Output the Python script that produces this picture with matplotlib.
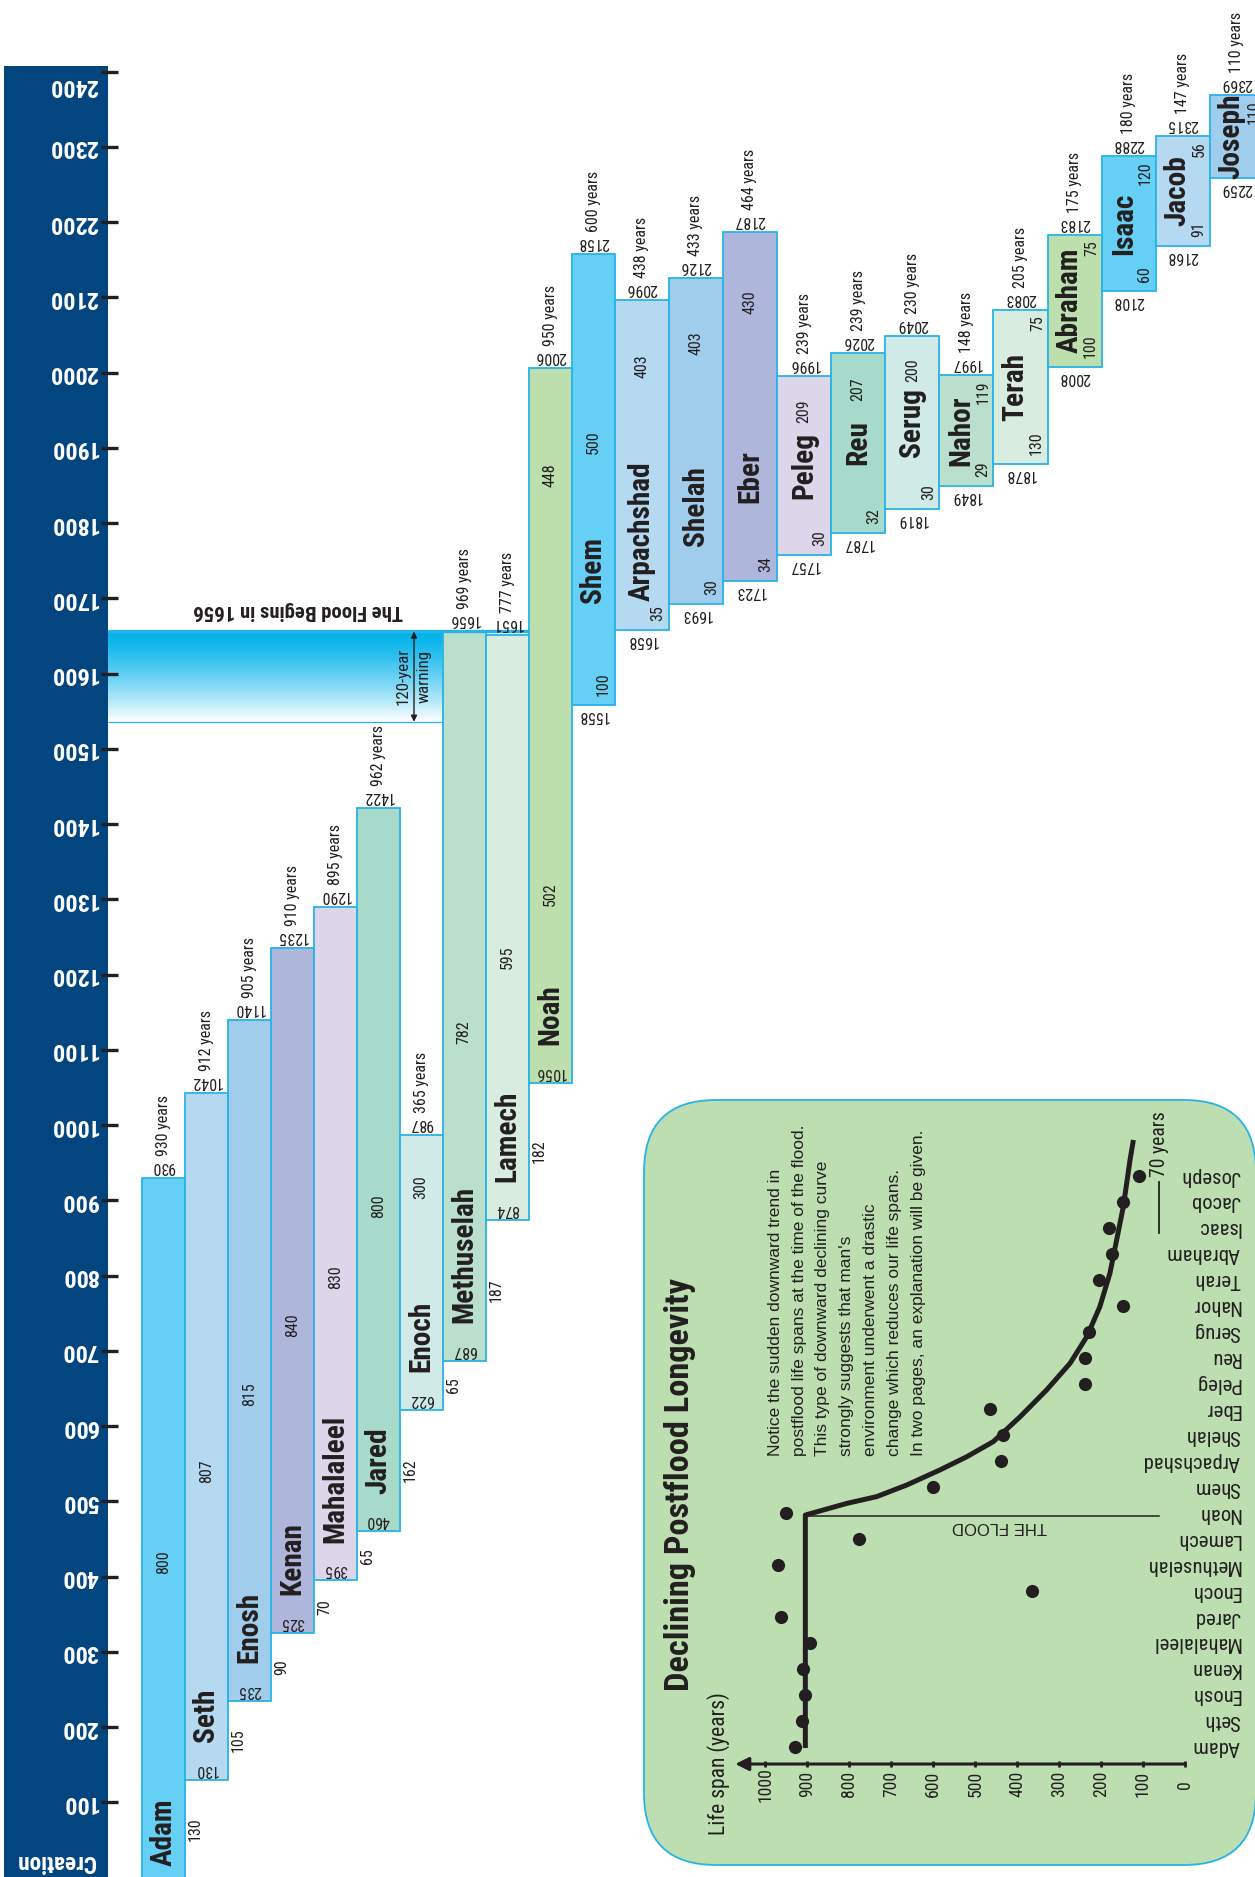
import numpy as np
import matplotlib
matplotlib.use("Agg")
import matplotlib.pyplot as plt
from matplotlib import font_manager
from matplotlib.font_manager import FontProperties
from matplotlib.patches import Rectangle, FancyBboxPatch
from matplotlib.transforms import IdentityTransform

# ---- data ----
names = ["Adam", "Seth", "Enosh", "Kenan", "Mahalaleel", "Jared", "Enoch",
         "Methuselah", "Lamech", "Noah", "Shem", "Arpachshad", "Shelah", "Eber",
         "Peleg", "Reu", "Serug", "Nahor", "Terah", "Abraham", "Isaac", "Jacob",
         "Joseph"]
birth_years = [0, 130, 235, 325, 395, 460, 622, 687, 874, 1056, 1558, 1658, 1693,
               1723, 1757, 1787, 1819, 1849, 1878, 2008, 2108, 2168, 2259]
life_spans = [930, 912, 905, 910, 895, 962, 365, 969, 777, 950, 600, 438, 433,
              464, 239, 239, 230, 148, 205, 175, 180, 147, 110]
age_at_son = [130, 105, 90, 70, 65, 162, 65, 187, 182, 502, 100, 35, 30, 34, 30,
              32, 30, 29, 130, 100, 60, 91, None]
flood_year = 1656
warning_years = 120
axis_years = list(range(100, 2401, 100))

# inset: hand drawn declining curve (row index, life span)
curve_rows = [-0.05, 8.93, 9.38, 9.64, 10.09, 10.67, 11.18, 11.76, 12.72, 13.75,
              14.78, 15.81, 16.96, 18.25, 19.53, 20.82, 22.62, 23.39]
curve_life = [905, 905, 806, 735, 663, 584, 520, 457, 393, 330, 274, 234, 203,
              179, 163, 147, 131, 123]
inset_ticks = list(range(0, 1001, 100))
modern_span = 70
modern_line_life = 61
note_lines = ["Notice the sudden downward trend in",
              "postflood life spans at the time of the flood.",
              "This type of downward declining curve",
              "strongly suggests that man's",
              "environment underwent a drastic",
              "change which reduces our life spans.",
              "In two pages, an explanation will be given."]

# ---- styles ----
bar_palette = ['#66cff6', '#b5d9f1', '#a1cdec', '#aeb6dc', '#ddd5ea',
               '#a8dacb', '#d0eae8', '#badfcc', '#d8ede0', '#bddfae']
DARK = '#231f20'
CYAN = '#27b3e6'
NAVY = '#03467f'
INSET_BG = '#bcdeb0'


def pick_fonts():
    ttf = font_manager.fontManager.ttflist
    have = {f.name for f in ttf}
    reg = next((n for n in ['Liberation Sans', 'Roboto', 'DejaVu Sans'] if n in have),
               'DejaVu Sans')
    for n in ['Liberation Sans Narrow', 'Roboto Condensed', 'Open Sans Condensed',
              'Noto Sans Condensed', 'DejaVu Sans Condensed']:
        if n in have:
            return n, 'normal', reg
    for f in ttf:
        if ('Narrow' in f.name or 'Condensed' in f.name) and 'Mono' not in f.name:
            return f.name, 'normal', reg
    for f in ttf:
        if str(f.stretch) in ('condensed', 'semi-condensed') and \
                'Mono' not in f.name and 'Serif' not in f.name:
            return f.name, f.stretch, reg
    return reg, 'normal', reg


NARROW, STRETCH, REG = pick_fonts()

W, H = 1255, 1877
fig = plt.figure(figsize=(W / 100, H / 100), dpi=100)
renderer = fig.canvas.get_renderer()


def measure(s, weight, family):
    fp = FontProperties(family=family or NARROW, weight=weight, size=10,
                        stretch=STRETCH if family is None else 'normal')
    w, h, d = renderer.get_text_width_height_descent(s, fp, ismath=False)
    return w, h - d


def fit(s, target_w, target_h=None, weight='normal', family=None, cap="H"):
    # font size (pt) matching the width (and cap height) seen in the reference
    w, _ = measure(s, weight, family)
    size_w = 10 * target_w / w
    if target_h is None:
        return size_w
    _, h = measure(cap, weight, family)
    size_h = 10 * target_h / h
    return (size_w * size_h) ** 0.5


NUM = fit("1422", 31, 11.7, cap="1422") * 1.05
NAME = fit("Arpachshad", 133, 21.7, 'bold') * 1.06
TICK = fit("2400", 52, 18, 'bold', cap="2400")
CRE = fit("Creation", 88, 16.5, 'bold', cap="C")
FLOOD_T = fit("The Flood Begins in 1656", 219, 15.7, 'bold', cap="T")
WARN = fit("120-year", 57, 13.3, cap="1")
TITLE = fit("Declining Postflood Longevity", 425, 25.5, 'bold', cap="D") * 1.02
INAME = fit("Methuselah", 95)
ITICK = fit("1000", 35, 13.7, cap="1000")
ILAB = fit("Life span (years)", 142)
SEVENTY = fit("70 years", 65)
FLOOD_L = fit("THE FLOOD", 95, family=REG)
PARA = fit("In two pages, an explanation will be given.", 325, family=REG)

NF = dict(family=NARROW, fontstretch=STRETCH, color=DARK)

ax = fig.add_axes([0, 0, 1, 1])
ax.set_zorder(0)
PX = 1 / 0.7525          # years per pixel
YTOP = 1877.6 * PX

# column geometry: pre-flood columns are narrower
lefts, widths = [], []
x = 141.7
for i in range(len(names)):
    w = 43.0 if i <= names.index("Shem") else 54.1
    lefts.append(x)
    widths.append(w)
    x += w

# time axis band
ax.add_patch(Rectangle((4, 0), 104, 2407, facecolor=NAVY, edgecolor='none', zorder=1))
ax.hlines(axis_years, 101, 118, color=DARK, lw=2.4, zorder=4)
for t in axis_years:
    y = t if t < 2400 else t - 14 * PX
    ax.text(98, y, str(t), rotation=180, rotation_mode='anchor', ha='left',
            va='center', fontweight='bold', fontsize=TICK, zorder=5,
            **{**NF, 'color': 'white'})
ax.text(56, 21, "Creation", rotation=180, rotation_mode='anchor', ha='center',
        va='center', fontweight='bold', fontsize=CRE, zorder=5,
        **{**NF, 'color': 'white'})

# flood band
i_meth = names.index("Methuselah")
i_noah = names.index("Noah")
grad = np.linspace(0, 1, 200) ** 1.3
top_rgb = np.array([0x00, 0xb2, 0xeb]) / 255
img = np.ones((200, 1, 3))
for k in range(200):
    img[k, 0] = top_rgb * (1 - grad[k]) + np.ones(3) * grad[k]
ax.imshow(img, extent=[108, lefts[i_meth], flood_year - warning_years, flood_year],
          aspect='auto', zorder=1, origin='upper', interpolation='bilinear')
ax.hlines(flood_year, 108, lefts[i_noah], color=CYAN, lw=2.4, zorder=4)
ax.hlines(flood_year - warning_years, 108, lefts[i_meth], color=CYAN, lw=0.9, zorder=4)
ax.annotate('', xy=(414, flood_year), xytext=(414, flood_year - warning_years),
            arrowprops=dict(arrowstyle='<|-|>', color=DARK, lw=1.0,
                            mutation_scale=9, shrinkA=0, shrinkB=0), zorder=5)
ax.text(414, flood_year - warning_years / 2, f"{warning_years}-year\nwarning",
        rotation=90, ha='center', va='center', multialignment='center',
        linespacing=1.5, fontsize=WARN, zorder=5, **NF)
ax.text(298, flood_year + 21 * PX, f"The Flood Begins in {flood_year}",
        rotation=180, rotation_mode='anchor', ha='center', va='center',
        fontweight='bold', fontsize=FLOOD_T, **NF)

# bars
colors = [bar_palette[i % len(bar_palette)] for i in range(len(names))]
ax.bar(lefts, life_spans, width=widths, bottom=birth_years, align='edge',
       color=colors, edgecolor=CYAN, linewidth=1.3, zorder=3)

for i, (nm, b, L, a) in enumerate(zip(names, birth_years, life_spans, age_at_son)):
    d = b + L
    cx = lefts[i] + widths[i] / 2
    right = lefts[i] + widths[i]
    txt = dict(zorder=6, **NF)
    # death year + life span
    ax.text(cx, d + 4 * PX, str(d), rotation=180, rotation_mode='anchor',
            ha='center', va='top', fontsize=NUM, **txt)
    ax.text(cx, d + 22 * PX, f"{L} years", rotation=90, rotation_mode='anchor',
            ha='left', va='center', fontsize=NUM, **txt)
    # birth year
    if 0 < i <= i_noah:
        ax.text(cx, b + 3 * PX, str(b), rotation=180, rotation_mode='anchor',
                ha='center', va='top', fontsize=NUM, **txt)
    elif i > i_noah:
        ax.text(cx, b - 3 * PX, str(b), rotation=180, rotation_mode='anchor',
                ha='center', va='bottom', fontsize=NUM, **txt)
    # name
    if i <= i_noah:
        ny = b + (15 if i == 0 else 50)
        ax.text(cx, ny, nm, rotation=90, rotation_mode='anchor', ha='left',
                va='center', fontsize=NAME, fontweight='bold', **txt)
    else:
        ny = b + 0.3 * L if L > 400 else b + L / 2
        nx = cx - 5 if L < 220 else cx
        ax.text(nx, ny, nm, rotation=90, rotation_mode='anchor', ha='center',
                va='center', fontsize=NAME, fontweight='bold', **txt)
    # age at son's birth
    if a is not None:
        if i < i_noah:
            ax.text(lefts[i + 1] + 11, b + a / 2, str(a), rotation=90,
                    rotation_mode='anchor', ha='center', va='center',
                    fontsize=NUM, **txt)
        elif a >= 300:
            ax.text(cx, b + a / 2, str(a), rotation=90, rotation_mode='anchor',
                    ha='center', va='center', fontsize=NUM, **txt)
        else:
            ax.text(right - 11, b + 12, str(a), rotation=90, rotation_mode='anchor',
                    ha='left', va='center', fontsize=NUM, **txt)
    # remaining years
    aft = L - a if a is not None else L
    if i < i_noah:
        ay = b + max(0.45 * L, 50 + 19 * len(nm) + 150)
        ax.text(cx, ay, str(aft), rotation=90, rotation_mode='anchor',
                ha='center', va='center', fontsize=NUM, **txt)
    elif L < 220:
        ax.text(right - 10, d - 7, str(aft), rotation=90, rotation_mode='anchor',
                ha='right', va='center', fontsize=NUM, **txt)
    else:
        if a >= 300:
            ay = d - 0.15 * L
        elif aft >= 440:
            ay = b + a + aft / 2
        else:
            ay = d - max(40, 0.2 * L)
        ax.text(cx, ay, str(aft), rotation=90, rotation_mode='anchor',
                ha='center', va='center', fontsize=NUM, **txt)

ax.set_xlim(0, W)
ax.set_ylim(0.8, YTOP)
ax.axis('off')

# ---- inset: Declining Postflood Longevity ----
bx0, by0, bw, bh = 644, H - 1865, 612, 765
box = FancyBboxPatch((bx0, by0), bw, bh, boxstyle='round,pad=0,rounding_size=72',
                     transform=IdentityTransform(), facecolor=INSET_BG,
                     edgecolor=CYAN, linewidth=1.3, zorder=2)
fig.add_artist(box)

ins = fig.add_axes([bx0 / W, by0 / H, 609 / W, bh / H])
ins.set_zorder(5)
ins.patch.set_alpha(0)
ins.set_xlim(1289.6, -162.1)
ins.set_ylim(-4.56, 24.93)
ins.axis('off')

rows = np.arange(len(names))
ins.plot(curve_life, curve_rows, color=DARK, lw=3.6, solid_joinstyle='round',
         solid_capstyle='butt', zorder=3)
ins.scatter(life_spans, rows, s=90, color=DARK, zorder=4, linewidths=0)

flood_row = i_noah - 0.11
ins.plot([curve_life[0], modern_line_life], [flood_row, flood_row], color=DARK,
         lw=1.1, zorder=3)
ins.text(443, flood_row - 0.42, "THE FLOOD", rotation=180, rotation_mode='anchor',
         ha='center', va='center', fontsize=FLOOD_L, family=REG, color=DARK)
ins.plot([modern_line_life, modern_line_life], [19.8, 21.75], color=DARK, lw=1.3)
ins.text(modern_line_life - 1, 21.95, f"{modern_span} years", rotation=90,
         rotation_mode='anchor', ha='left', va='center', fontsize=SEVENTY, **NF)

axis_row = -0.667
ins.annotate('', xy=(1072, axis_row), xytext=(0, axis_row),
             arrowprops=dict(arrowstyle='-|>', color=DARK, lw=2.2,
                             mutation_scale=20, shrinkA=0, shrinkB=0))
ins.vlines(inset_ticks, axis_row - 0.13, axis_row + 0.13, color=DARK, lw=2.0)
for v in inset_ticks:
    ins.text(v, axis_row - 0.78, str(v), rotation=90, rotation_mode='anchor',
             ha='center', va='center', fontsize=ITICK, **NF)
ins.text(1111, axis_row, "Life span (years)", rotation=90, rotation_mode='anchor',
         ha='center', va='center', fontsize=ILAB, **NF)

for r, nm in zip(rows, names):
    ins.text(-131, r, nm, rotation=180, rotation_mode='anchor', ha='left',
             va='center', fontsize=INAME, **NF)

ins.text(1204, 10.09, "Declining Postflood Longevity", rotation=90,
         rotation_mode='anchor', ha='center', va='center', fontsize=TITLE,
         fontweight='bold', **NF)
ins.text(806, 11.19, "\n".join(note_lines), rotation=90, rotation_mode='anchor',
         ha='left', va='center', multialignment='left', linespacing=1.74,
         fontsize=PARA, family=REG, color=DARK)

fig.savefig("out.png", dpi=100, facecolor='white')
